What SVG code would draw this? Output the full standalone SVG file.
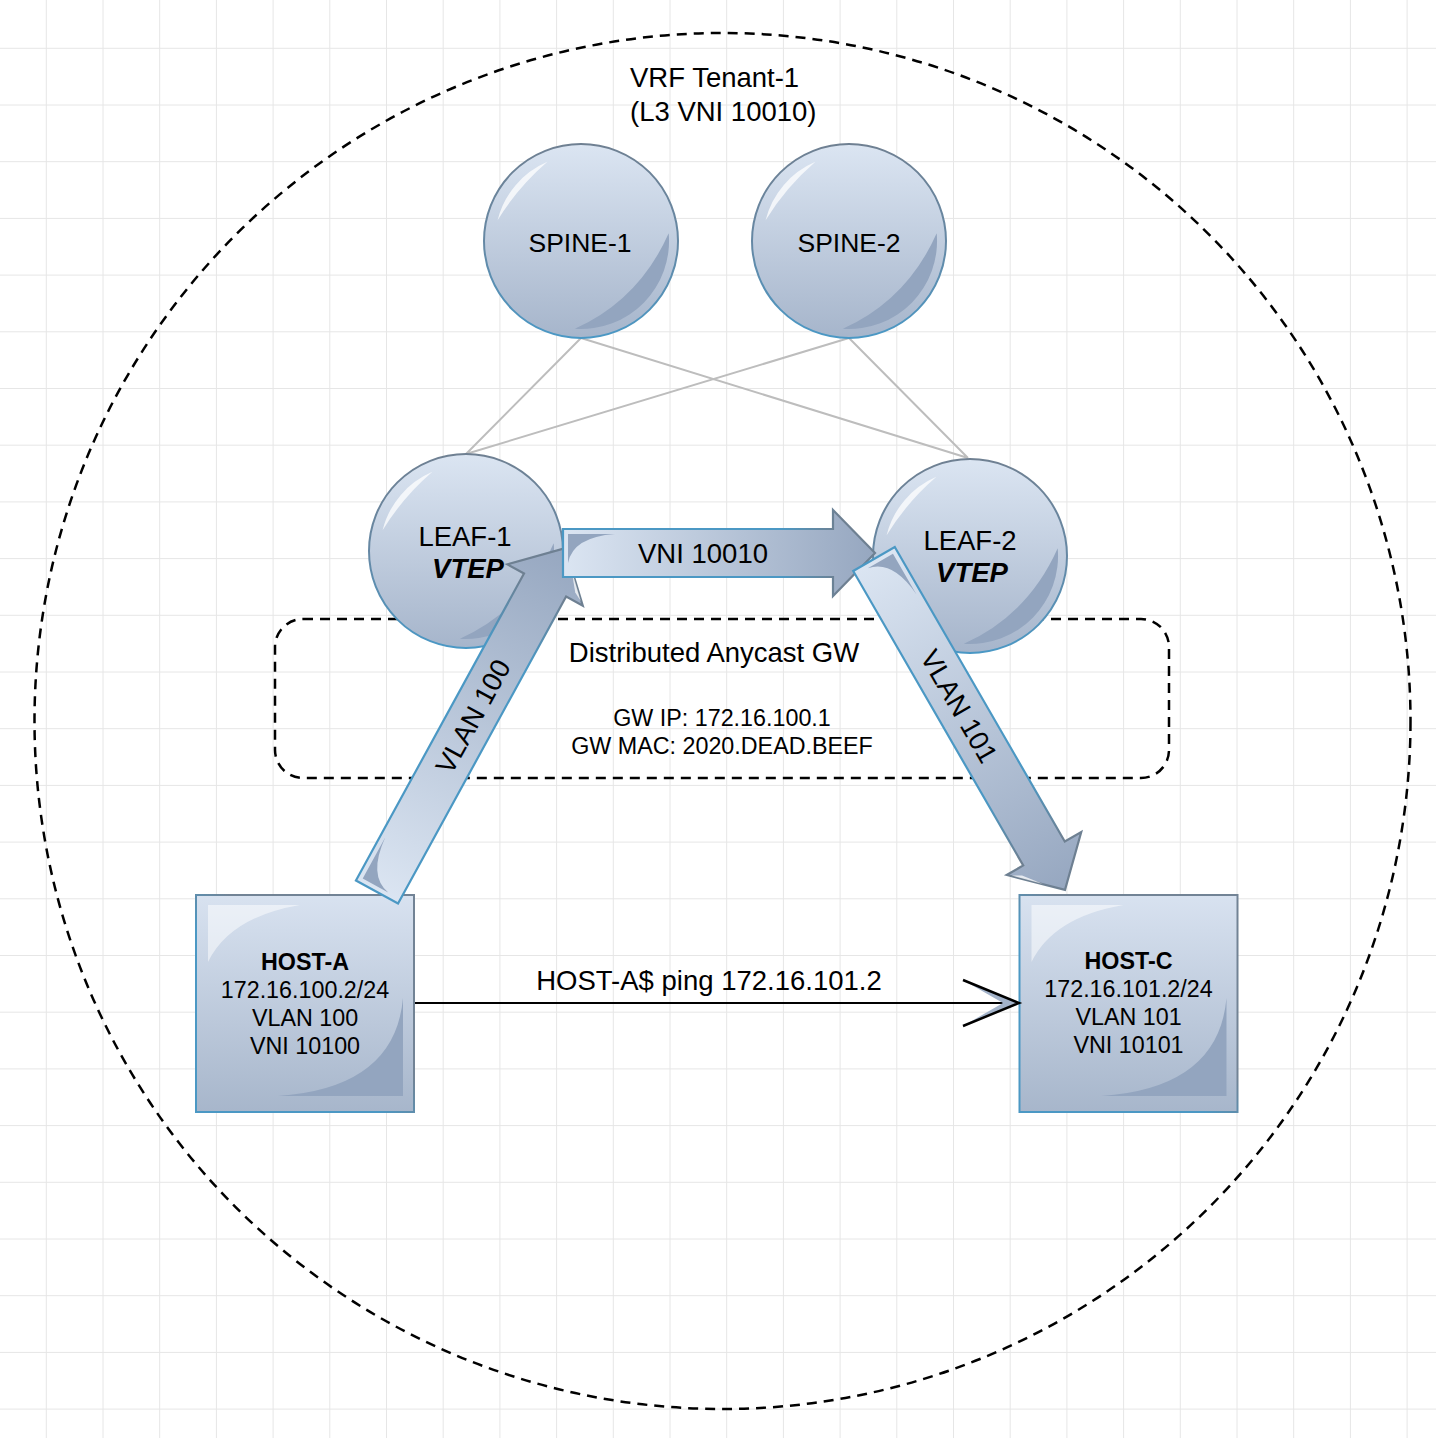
<svg xmlns="http://www.w3.org/2000/svg" xmlns:xlink="http://www.w3.org/1999/xlink" width="1436" height="1438" viewBox="0 0 1436 1438">
<style>
text{font-family:"Liberation Sans",Arial,Helvetica,sans-serif;fill:#000;}
.lbl{font-size:27.5px;text-anchor:middle;}
.spn{font-size:26.5px;text-anchor:middle;}
.hst{font-size:23.3px;text-anchor:middle;}
.b{font-weight:bold;}
.bi{font-weight:bold;font-style:italic;}
.dash{fill:none;stroke:#000;stroke-width:2.5;stroke-dasharray:10 7;}
.grid{fill:none;stroke:#e6e6e6;stroke-width:1;}
.sl{stroke:#bdbdbd;stroke-width:2;fill:none;}
.blk{fill:url(#arrFill);stroke:url(#arrStroke);stroke-width:2.2;stroke-linejoin:miter;}
.dk{fill:#93a5bf;}
.wh{fill:#fff;opacity:0.75;}
</style>
<defs>
<linearGradient id="ballFill" x1="0" y1="0" x2="0" y2="1"><stop offset="0" stop-color="#dbe5f2"/><stop offset="1" stop-color="#a6b5cb"/></linearGradient>
<linearGradient id="ballStroke" x1="0" y1="0" x2="0" y2="1"><stop offset="0" stop-color="#6f8092"/><stop offset="0.5" stop-color="#6688a4"/><stop offset="1" stop-color="#4a98c5"/></linearGradient>
<linearGradient id="boxFill" x1="0" y1="0" x2="0" y2="1"><stop offset="0" stop-color="#d8e2f0"/><stop offset="1" stop-color="#a7b6cb"/></linearGradient>
<linearGradient id="boxStroke" x1="1" y1="0" x2="0" y2="1"><stop offset="0.42" stop-color="#728395"/><stop offset="0.58" stop-color="#4b98c4"/></linearGradient>
<linearGradient id="arrFill" x1="0" y1="0" x2="1" y2="0"><stop offset="0" stop-color="#dbe5f2"/><stop offset="1" stop-color="#96a7c0"/></linearGradient>
<linearGradient id="arrStroke" x1="0" y1="0" x2="1" y2="0"><stop offset="0.7" stop-color="#4b98c4"/><stop offset="0.88" stop-color="#6e8092"/></linearGradient>
<g id="ball">
<circle r="97" fill="url(#ballFill)" stroke="url(#ballStroke)" stroke-width="2"/>
<path class="dk" d="M87.7,-7.7 A88,88 0 0 1 -6.1,87.8 Q58,59 87.7,-7.7 Z"/>
<path class="wh" d="M-83.4,-20.8 A86,86 0 0 1 -33.6,-79.2 Q-63.1,-53.8 -83.4,-20.8 Z"/>
</g>
<g id="box">
<rect x="0" y="0" width="218" height="217" fill="url(#boxFill)" stroke="url(#boxStroke)" stroke-width="2"/>
<path fill="#fff" opacity="0.5" d="M12,10 H104 Q34,22 12,67 Z"/>
<path class="dk" d="M207,103 V201 H82 Q199,193 207,103 Z"/>
</g>
</defs>

<g id="grid">
<path class="grid" d="M46.3 0V1438M103 0V1438M159.7 0V1438M216.4 0V1438M273.1 0V1438M329.8 0V1438M386.5 0V1438M443.2 0V1438M499.9 0V1438M556.6 0V1438M613.3 0V1438M670 0V1438M726.7 0V1438M783.4 0V1438M840.1 0V1438M896.8 0V1438M953.5 0V1438M1010.2 0V1438M1066.9 0V1438M1123.6 0V1438M1180.3 0V1438M1237 0V1438M1293.7 0V1438M1350.4 0V1438M1407.1 0V1438"/>
<path class="grid" d="M0 48.3H1436M0 105H1436M0 161.7H1436M0 218.4H1436M0 275.1H1436M0 331.8H1436M0 388.5H1436M0 445.2H1436M0 501.9H1436M0 558.6H1436M0 615.3H1436M0 672H1436M0 728.7H1436M0 785.4H1436M0 842.1H1436M0 898.8H1436M0 955.5H1436M0 1012.2H1436M0 1068.9H1436M0 1125.6H1436M0 1182.3H1436M0 1239H1436M0 1295.7H1436M0 1352.4H1436M0 1409.1H1436"/>
</g>

<g id="vrf">
<circle class="dash" cx="722.5" cy="721" r="688"/>
<text x="630" y="87" style="font-size:27.5px">VRF Tenant-1</text>
<text x="630" y="121" style="font-size:27.5px">(L3 VNI 10010)</text>
</g>

<g id="anycast-gw">
<rect class="dash" x="275" y="619" width="894" height="159" rx="28" ry="28"/>
<text class="lbl" x="714" y="662">Distributed Anycast GW</text>
<text class="hst" x="722" y="726">GW IP: 172.16.100.1</text>
<text class="hst" x="722" y="754">GW MAC: 2020.DEAD.BEEF</text>
</g>

<g id="connectors-fabric">
<path class="sl" d="M581,338 L466,454 M581,338 L968,458 M849,338 L466,454 M849,338 L968,458"/>
</g>

<g id="spine1">
<use xlink:href="#ball" href="#ball" x="581" y="241"/>
<text class="spn" x="580" y="252">SPINE-1</text>
</g>
<g id="spine2">
<use xlink:href="#ball" href="#ball" x="849" y="241"/>
<text class="spn" x="849" y="252">SPINE-2</text>
</g>
<g id="leaf1">
<use xlink:href="#ball" href="#ball" x="466" y="551"/>
<text class="lbl" x="465" y="546">LEAF-1</text>
<text class="lbl bi" x="468" y="578">VTEP</text>
</g>
<g id="leaf2">
<use xlink:href="#ball" href="#ball" x="970" y="556"/>
<text class="lbl" x="970" y="550">LEAF-2</text>
<text class="lbl bi" x="972" y="582">VTEP</text>
</g>
<g id="host-a">
<use xlink:href="#box" href="#box" x="196" y="895"/>
<text class="hst b" x="305" y="970">HOST-A</text>
<text class="hst" x="305" y="998">172.16.100.2/24</text>
<text class="hst" x="305" y="1026">VLAN 100</text>
<text class="hst" x="305" y="1054">VNI 10100</text>
</g>
<g id="host-c">
<use xlink:href="#box" href="#box" x="1019.5" y="895"/>
<text class="hst b" x="1128.5" y="969">HOST-C</text>
<text class="hst" x="1128.5" y="997">172.16.101.2/24</text>
<text class="hst" x="1128.5" y="1025">VLAN 101</text>
<text class="hst" x="1128.5" y="1053">VNI 10101</text>
</g>

<g id="connectors">
<g id="ping">
<path d="M415,1003 H1008" stroke="#000" stroke-width="2" fill="none"/>
<path d="M963,980 L1019,1003 L963,1026 L1003,1003 Z" fill="#a3b3ca"/>
<path d="M963,980 L1019,1003 L963,1026" fill="none" stroke="#000" stroke-width="2.5"/>
<text class="lbl" x="709" y="990">HOST-A$ ping 172.16.101.2</text>
</g>
<g id="vlan100" transform="translate(377,892) rotate(-61.3)">
<path class="blk" d="M0,-24 H350 V-43 L392,0 L350,43 V24 H0 Z"/>
<path class="dk" d="M5,-19 H52 Q10,-16 5,10 Z"/>
<path class="wh" d="M353,39 L376,16 L358,30 Z"/>
<text class="lbl" x="200" y="9.5">VLAN 100</text>
</g>
<g id="vni10010" transform="translate(563,553)">
<path class="blk" d="M0,-24 H270 V-43 L312,0 L270,43 V24 H0 Z"/>
<path class="dk" d="M5,-19 H52 Q10,-16 5,10 Z"/>
<path class="wh" d="M274,19 L300,6 L280,16 Z"/>
<text class="lbl" x="140" y="9.5">VNI 10010</text>
</g>
<g id="vlan101" transform="translate(874,559) rotate(60)">
<path class="blk" d="M0,-24 H340 V-43 L382,0 L340,43 V24 H0 Z"/>
<path class="dk" d="M5,-19 H52 Q10,-16 5,10 Z"/>
<path class="wh" d="M343,39 L366,16 L348,30 Z"/>
<text class="lbl" x="170" y="9.5">VLAN 101</text>
</g>
</g>
</svg>
